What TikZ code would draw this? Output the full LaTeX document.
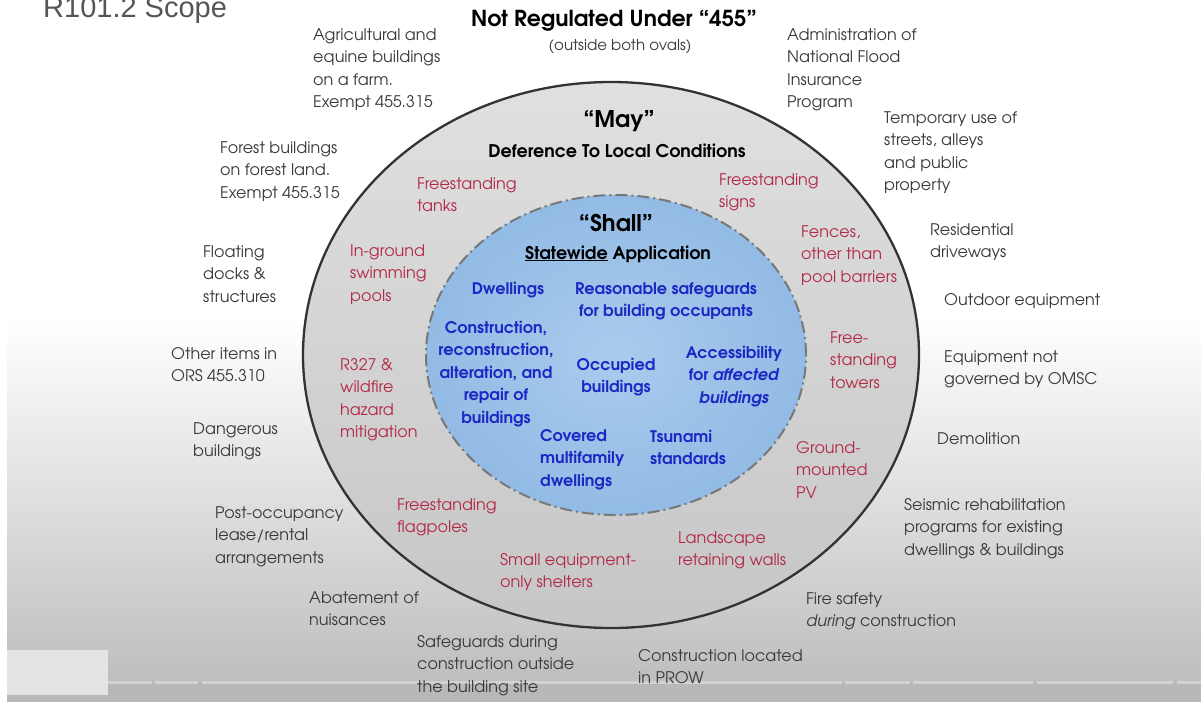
\documentclass[tikz,border=0pt]{standalone}
\usepackage{fontspec}
\setmainfont{TeX Gyre Adventor}
\newfontfamily\titlefont{Liberation Sans}
\definecolor{txtgray}{RGB}{58,58,58}
\definecolor{txtred}{RGB}{178,42,72}
\definecolor{txtblue}{RGB}{28,40,196}
\definecolor{bgbot}{RGB}{190,190,190}
\definecolor{stripcol}{RGB}{184,184,184}
\definecolor{boxcol}{RGB}{228,228,228}
\definecolor{lineseg}{RGB}{210,210,210}
\definecolor{ovaltop}{RGB}{224,224,224}
\definecolor{ovalbot}{RGB}{198,198,198}
\definecolor{blueinner}{RGB}{170,203,237}
\definecolor{blueouter}{RGB}{146,187,229}
\definecolor{dashcol}{RGB}{120,120,120}
\definecolor{titlecol}{RGB}{85,85,85}
\tikzset{
  gtext/.style={font=\fontsize{16}{22.6}\selectfont, text=txtgray, align=left, anchor=north west, inner sep=0pt},
  rtext/.style={font=\fontsize{16}{22.6}\selectfont, text=txtred, align=left, anchor=north west, inner sep=0pt},
  btext/.style={font=\bfseries\fontsize{16}{22.6}\selectfont, text=txtblue, align=center, anchor=north, inner sep=0pt},
  bltext/.style={btext, align=left, anchor=north west},
  headbig/.style={font=\bfseries\fontsize{23}{26}\selectfont, text=black, anchor=base, inner sep=0pt},
  headmid/.style={font=\bfseries\fontsize{17.5}{22}\selectfont, text=black, anchor=base, inner sep=0pt},
}
\begin{document}
\begin{tikzpicture}[x=1pt,y=-1pt]
\useasboundingbox (0,0) rectangle (1201,702);
\fill[white] (0,0) rectangle (1201,702);
% screen gradient
\shade[top color=white, bottom color=bgbot] (7,320) rectangle (1201,682);
\fill[stripcol] (7,682) rectangle (1201,702);
\foreach \a/\b in {108/152,155/198,202/842,845/910,913/1033,1037/1173,1177/1201}
  \fill[lineseg] (\a,681) rectangle (\b,684);
\fill[boxcol] (7,650) rectangle (108,695);

% ovals
\draw[line width=2.3pt, draw=black!80, top color=ovaltop, bottom color=ovalbot]
  (611,355) ellipse [x radius=308pt, y radius=273pt];
\draw[line width=2pt, draw=dashcol, inner color=blueinner, outer color=blueouter,
  dash pattern=on 12pt off 4pt on 2pt off 4pt]
  (616,355) ellipse [x radius=190pt, y radius=160pt];

% title
\node[font=\titlefont\fontsize{29}{30}\selectfont, text=titlecol, anchor=base west, inner sep=0pt] (title) at (43,17) {R101.2 Scope};

% headings
\node[headbig, font=\bfseries\fontsize{22}{26}\selectfont] (notreg) at (614,26) {Not Regulated Under “455”};
\node[font=\fontsize{15}{16}\selectfont, text=txtgray, anchor=base, inner sep=0pt] (outside) at (620,50) {(outside both ovals)};
\node[headbig] (may) at (619,127) {“May”};
\node[headmid] (defer) at (617,157) {Deference To Local Conditions};
\node[headbig] (shall) at (616,231) {“Shall”};
\node[headmid] (statewide) at (618,259) {\underline{Statewide} Application};

% outside (gray)
\node[gtext] (agri) at (313,24) {\strut Agricultural and\\equine buildings\\on a farm.\\Exempt 455.315};
\node[gtext] (forest) at (220,137) {\strut Forest buildings\\on forest land.\\Exempt 455.315};
\node[gtext] (floating) at (203,241) {\strut Floating\\docks \&\\structures};
\node[gtext] (other) at (171,343) {\strut Other items in\\ORS 455.310};
\node[gtext] (danger) at (193,418) {\strut Dangerous\\buildings};
\node[gtext] (post) at (215,502) {\strut Post-occupancy\\lease/rental\\arrangements};
\node[gtext] (abate) at (309,587) {\strut Abatement of\\nuisances};
\node[gtext] (safe) at (417,631) {\strut Safeguards during\\construction outside\\the building site};
\node[gtext] (prow) at (638,645) {\strut Construction located\\in PROW};
\node[gtext] (fire) at (806,588) {\strut Fire safety\\\textit{during} construction};
\node[gtext] (seismic) at (904,494) {\strut Seismic rehabilitation\\programs for existing\\dwellings \& buildings};
\node[gtext] (demo) at (937,428) {\strut Demolition};
\node[gtext] (equip) at (944,346) {\strut Equipment not\\governed by OMSC};
\node[gtext] (outdoor) at (944,289) {\strut Outdoor equipment};
\node[gtext] (resid) at (930,219) {\strut Residential\\driveways};
\node[gtext] (temp) at (884,107) {\strut Temporary use of\\streets, alleys\\and public\\property};
\node[gtext] (admin) at (787,24) {\strut Administration of\\National Flood\\Insurance\\Program};

% may (red)
\node[rtext] (tanks) at (417,173) {\strut Freestanding\\tanks};
\node[rtext] (signs) at (719,169) {\strut Freestanding\\signs};
\node[rtext] (pools) at (350,240) {\strut In-ground\\swimming\\pools};
\node[rtext] (fences) at (801,221) {\strut Fences,\\other than\\pool barriers};
\node[rtext] (r327) at (340,354) {\strut R327 \&\\wildfire\\hazard\\mitigation};
\node[rtext] (towers) at (830,327) {\strut Free-\\standing\\towers};
\node[rtext] (pv) at (796,437) {\strut Ground-\\mounted\\PV};
\node[rtext] (flag) at (397,494) {\strut Freestanding\\flagpoles};
\node[rtext] (shelters) at (500,549) {\strut Small equipment-\\only shelters};
\node[rtext] (walls) at (678,527) {\strut Landscape\\retaining walls};

% shall (blue)
\node[btext] (dwell) at (508,278) {\strut Dwellings};
\node[btext] (reason) at (666,278) {\strut Reasonable safeguards\\for building occupants};
\node[btext] (constr) at (496,317) {\strut Construction,\\reconstruction,\\alteration, and\\repair of\\buildings};
\node[btext] (occup) at (616,354) {\strut Occupied\\buildings};
\node[btext] (access) at (734,342) {\strut Accessibility\\for \textit{affected}\\\textit{buildings}};
\node[bltext] (covered) at (540,425) {\strut Covered\\multifamily\\dwellings};
\node[bltext] (tsunami) at (650,426) {\strut Tsunami\\standards};
\end{tikzpicture}
\end{document}
